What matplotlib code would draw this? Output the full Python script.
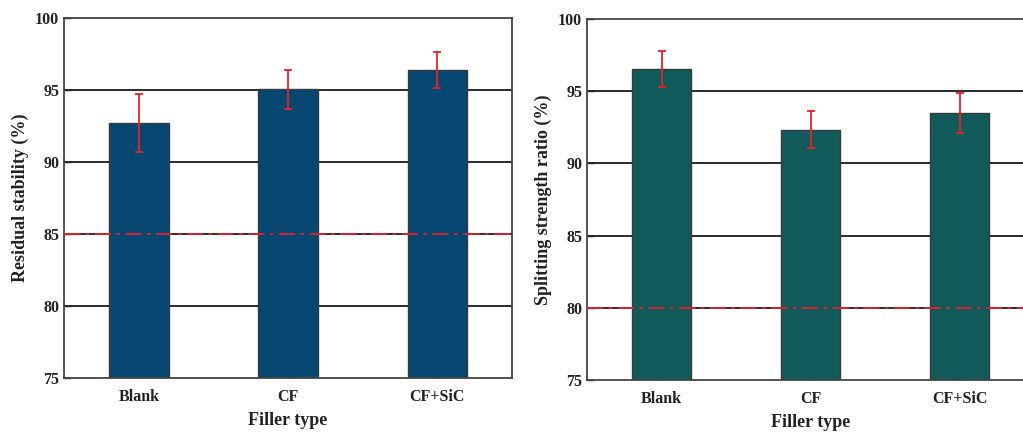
import matplotlib
matplotlib.use("Agg")
import matplotlib.pyplot as plt

plt.rcParams["font.family"] = ["Liberation Serif", "DejaVu Serif"]
plt.rcParams["font.weight"] = "bold"

categories = ["Blank", "CF", "CF+SiC"]

residual_stability = [92.7, 95.05, 96.4]
residual_err = [2.0, 1.35, 1.27]
residual_limit = 85

splitting_ratio = [96.55, 92.35, 93.5]
splitting_err = [1.25, 1.3, 1.37]
splitting_limit = 80

yticks = [75, 80, 85, 90, 95, 100]


def draw_panel(ax, values, errors, limit, color, ylabel):
    x = range(len(categories))
    for y in yticks[1:-1]:
        ax.axhline(y, color="#1a1a1a", linewidth=1.3, zorder=1)
    ax.bar(x, values, width=0.4, color=color, edgecolor="#3a3a3a",
           linewidth=1.0, zorder=2)
    ax.errorbar(x, values, yerr=errors, fmt="none", ecolor="#e8202a",
                elinewidth=1.3, capsize=2.8, capthick=1.3, zorder=4)
    ax.axhline(limit, color="#e8202a", linewidth=1.3, linestyle="-.",
               dashes=(9, 3, 2, 3), zorder=5)

    ax.set_xlim(-0.5, 2.5)
    ax.set_ylim(75, 100)
    ax.set_yticks(yticks)
    ax.set_xticks(list(x))
    ax.set_xticklabels(categories)
    ax.tick_params(axis="both", direction="in", length=5, width=1.0,
                   labelsize=11.5, colors="#222222")
    ax.tick_params(axis="x", pad=8)
    for lbl in ax.get_xticklabels() + ax.get_yticklabels():
        lbl.set_fontweight("bold")
        lbl.set_color("#222222")
    for sp in ax.spines.values():
        sp.set_color("#444444")
        sp.set_linewidth(1.3)
    ax.set_xlabel("Filler type", fontsize=13, fontweight="bold", labelpad=5,
                  color="#222222")
    ax.set_ylabel(ylabel, fontsize=13, fontweight="bold", color="#222222")


fig = plt.figure(figsize=(10.23, 4.32), dpi=100)
ax1 = fig.add_axes([0.0626, 0.125, 0.438, 0.833])
ax2 = fig.add_axes([0.5738, 0.12, 0.437, 0.836])

draw_panel(ax1, residual_stability, residual_err, residual_limit,
           "#074872", "Residual stability (%)")
draw_panel(ax2, splitting_ratio, splitting_err, splitting_limit,
           "#115a5a", "Splitting strength ratio (%)")

fig.savefig("out.png", dpi=100)
